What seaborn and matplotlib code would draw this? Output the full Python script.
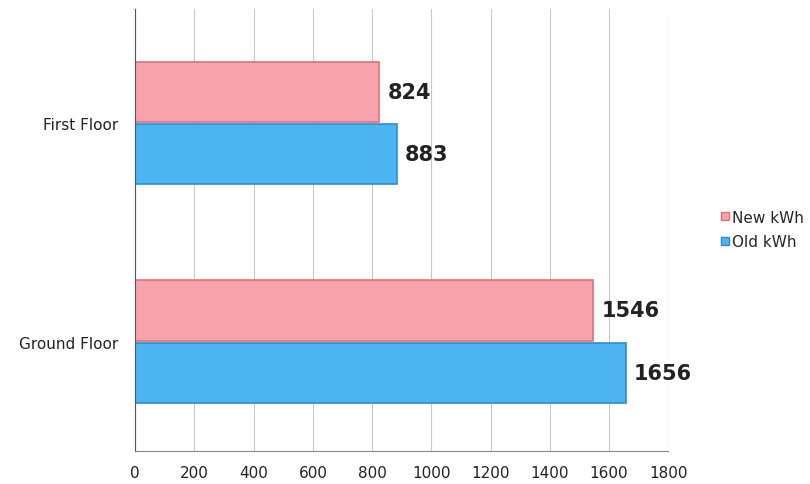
import pandas as pd
import matplotlib
matplotlib.use('Agg')
import matplotlib.pyplot as plt
import seaborn as sns

# Chart data
floors = ['First Floor', 'Ground Floor']
series = ['New kWh', 'Old kWh']
new_kwh = [824, 1546]
old_kwh = [883, 1656]
x_ticks = [0, 200, 400, 600, 800, 1000, 1200, 1400, 1600, 1800]

df = pd.DataFrame({
    'floor': floors * 2,
    'series': [series[0]] * len(floors) + [series[1]] * len(floors),
    'kwh': new_kwh + old_kwh,
})

sns.set_style("white")
plt.rcParams['font.family'] = ['DejaVu Sans']

fig = plt.figure(figsize=(8.1, 4.85), dpi=100)
ax = fig.add_axes([0.167, 0.068, 0.658, 0.911])

palette = {'New kWh': '#F7A3AB', 'Old kWh': '#4DB4F2'}
edges = {'New kWh': '#E0707C', 'Old kWh': '#2A8FD0'}

sns.barplot(data=df, y='floor', x='kwh', hue='series', order=floors, hue_order=series,
            palette=palette, saturation=1, orient='h', width=0.57, gap=0.03, ax=ax, legend=False)

# Bar edges and value labels
for container, name in zip(ax.containers, series):
    for patch in container:
        patch.set_edgecolor(edges[name])
        patch.set_linewidth(1.2)
    ax.bar_label(container, fmt='%d', padding=6, fontsize=15, fontweight='bold', color='#222222')

ax.set_xlim(0, 1800)
ax.set_ylim(1.5, -0.52)
ax.set_xticks(x_ticks)
ax.set_xticklabels([str(t) for t in x_ticks], fontsize=11, color='#222222')
ax.tick_params(axis='y', labelsize=11, colors='#222222', length=0, pad=12)
ax.tick_params(axis='x', length=0, pad=10)
ax.set_xlabel('')
ax.set_ylabel('')
ax.grid(axis='x', color='#C8C8C8', linewidth=0.8)
ax.set_axisbelow(True)

for side in ['top', 'right']:
    ax.spines[side].set_visible(False)
ax.spines['left'].set_color('#555555')
ax.spines['bottom'].set_color('#888888')

# Legend at the right
handles = [plt.Line2D([], [], marker='s', linestyle='', markersize=6,
                      markerfacecolor=palette[s], markeredgecolor=edges[s]) for s in series]
fig.legend(handles, series, loc='center left', bbox_to_anchor=(0.87, 0.525), frameon=False,
           fontsize=11, handletextpad=0.1, labelspacing=0.6, handlelength=0.8)

fig.savefig('out.png', dpi=100)
